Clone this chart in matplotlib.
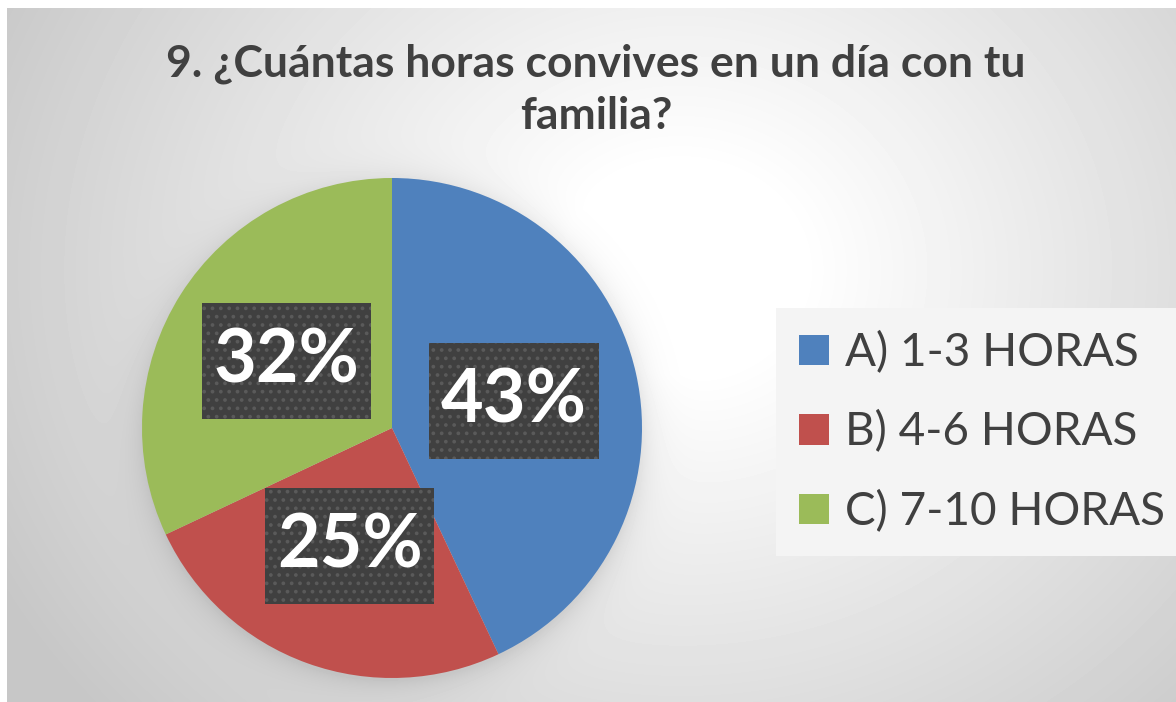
import numpy as np
import matplotlib
matplotlib.use('Agg')
import matplotlib.pyplot as plt
from matplotlib.path import Path

plt.rcParams['font.family'] = ['Lato', 'DejaVu Sans']
plt.rcParams['hatch.color'] = '#5a5a5a'
plt.rcParams['hatch.linewidth'] = 1.5

title = '9. ¿Cuántas horas convives en un día con tu\nfamilia?'
labels = ['A) 1-3 HORAS', 'B) 4-6 HORAS', 'C) 7-10 HORAS']
values = [43, 25, 32]
colors = ['#4f81bd', '#c0504d', '#9bbb59']
text_color = '#404040'

W, H = 1176, 702
fig = plt.figure(figsize=(W / 100, H / 100), dpi=100)


def label_box(x0, y0, width, height, mutation_size):
    # wider vertical padding than horizontal, like the excel data labels
    px = 0.16 * mutation_size
    py = 0.32 * mutation_size
    x0, x1 = x0 - px, x0 + width + px
    y0, y1 = y0 - py, y0 + height + py
    return Path([(x0, y0), (x1, y0), (x1, y1), (x0, y1), (x0, y0)], closed=True)


# background: radial grey gradient plus soft pie shadow
bg = fig.add_axes([0, 0, 1, 1])
yy, xx = np.mgrid[0:H, 0:W]
d = np.hypot(xx - 680, (yy - 270) * 1.15)
img = 1 - 0.22 * np.clip((d - 120) / 650, 0, 1)
dp = np.hypot(xx - 392, yy - 432)
img *= 1 - 0.10 * np.exp(-np.clip(dp - 248, 0, None) / 14)
img[:8, :] = 1
img[:, :7] = 1
bg.imshow(img, cmap='gray', vmin=0, vmax=1, extent=[0, W, H, 0], aspect='auto')
bg.axis('off')

ax = fig.add_axes([142 / W, 24 / H, 500 / W, 500 / H])
wedges, _, pcts = ax.pie(values, colors=colors, startangle=90, counterclock=False,
                         autopct='%1.0f%%', pctdistance=0.5,
                         wedgeprops=dict(linewidth=0))
ax.set_xlim(-1, 1)
ax.set_ylim(-1, 1)
for t in pcts:
    t.set_color('white')
    t.set_fontsize(53)
    t.set_fontweight('bold')
    t.set_bbox(dict(boxstyle=label_box, facecolor='#404040',
                    edgecolor='#5a5a5a', linewidth=0, hatch='..'))

fig.text(596 / W, 1 - 90 / H, title, ha='center', va='center', fontsize=32,
         fontweight='bold', color=text_color, linespacing=1.36)

leg = fig.legend(wedges, labels, loc='upper left',
                 bbox_to_anchor=(776 / W, 1 - 308 / H), borderaxespad=0,
                 fontsize=33, frameon=True, fancybox=False, facecolor='#f4f4f4',
                 edgecolor='none', framealpha=1, handlelength=0.65,
                 handleheight=0.65, handletextpad=0.35, labelspacing=0.8,
                 borderpad=0.5, labelcolor=text_color)

fig.savefig('out.png', dpi=100)
